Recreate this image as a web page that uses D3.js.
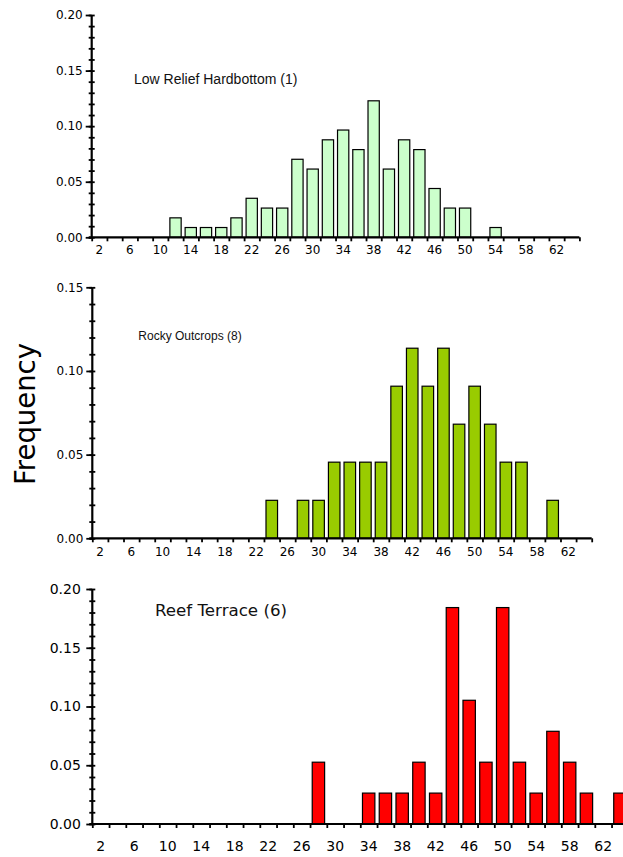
<!DOCTYPE html>
<html>
<head>
<meta charset="utf-8">
<script src="https://cdn.jsdelivr.net/npm/d3@7"></script>
<style>
body { margin: 0; background: #fff; }
svg { display: block; }
</style>
</head>
<body>
<svg id="chart" width="623" height="857"></svg>
<script>
// length classes (bin centres), 2 units wide
var bins = [2, 4, 6, 8, 10, 12, 14, 16, 18, 20, 22, 24, 26, 28, 30, 32,
            34, 36, 38, 40, 42, 44, 46, 48, 50, 52, 54, 56, 58, 60, 62, 64];
var xLabels = [2, 6, 10, 14, 18, 22, 26, 30, 34, 38, 42, 46, 50, 54, 58, 62];

// frequencies, one per bin
var lowRelief = [0, 0, 0, 0, 0, 0.0175, 0.0088, 0.0088, 0.0088, 0.0175, 0.0351, 0.0263, 0.0263, 0.0702, 0.0614, 0.0877,
                 0.0965, 0.0789, 0.1228, 0.0614, 0.0877, 0.0789, 0.0439, 0.0263, 0.0263, 0, 0.0088, 0, 0, 0, 0, 0];
var rockyOutcrops = [0, 0, 0, 0, 0, 0, 0, 0, 0, 0, 0, 0.0227, 0, 0.0227, 0.0227, 0.0455,
                     0.0455, 0.0455, 0.0455, 0.0909, 0.1136, 0.0909, 0.1136, 0.0682, 0.0909, 0.0682, 0.0455, 0.0455, 0, 0.0227, 0, 0];
var reefTerrace = [0, 0, 0, 0, 0, 0, 0, 0, 0, 0, 0, 0, 0, 0.0526, 0, 0,
                   0.0263, 0.0263, 0.0263, 0.0526, 0.0263, 0.1842, 0.1053, 0.0526, 0.1842, 0.0526, 0.0263, 0.0789, 0.0526, 0.0263, 0, 0.0263];

var titles = ["Low Relief Hardbottom (1)", "Rocky Outcrops (8)", "Reef Terrace (6)"];
var yTicksTop = [0, 0.05, 0.10, 0.15, 0.20];
var yTicksMid = [0, 0.05, 0.10, 0.15];
var yTicksBot = [0, 0.05, 0.10, 0.15, 0.20];

var svg = d3.select("#chart");

var panels = [
  { values: lowRelief, title: titles[0], yTicks: yTicksTop, yMax: 0.20,
    left: 91.7, right: 579.4, top: 15, bottom: 237.3, fill: "#ccffcc",
    fontSize: 12, yPad: 3, xPad: 8,
    tFont: "'Liberation Sans', Arial, sans-serif", tSize: 14, tx: 134, ty: 84, tLen: null },
  { values: rockyOutcrops, title: titles[1], yTicks: yTicksMid, yMax: 0.15,
    left: 92.3, right: 591.7, top: 287.3, bottom: 538.3, fill: "#99cc00",
    fontSize: 12, yPad: 3, xPad: 9.5,
    tFont: "'Liberation Sans', Arial, sans-serif", tSize: 12, tx: 138.3, ty: 340, tLen: null },
  { values: reefTerrace, title: titles[2], yTicks: yTicksBot, yMax: 0.20,
    left: 92.3, right: 628.3, top: 589, bottom: 824, fill: "#ff0000",
    fontSize: 14, yPad: 5.5, xPad: 17,
    tFont: "'Comic Sans MS', 'DejaVu Sans', sans-serif", tSize: 16, tx: 155, ty: 616, tLen: 132 }
];

panels.forEach(drawPanel);

function drawPanel(p) {
  var g = svg.append("g");

  var x = d3.scaleBand()
    .domain(bins)
    .range([p.left, p.right])
    .paddingInner(0.26)
    .paddingOuter(0.13);
  // bin edges
  var xEdge = d3.scaleLinear()
    .domain([0, bins.length])
    .range([p.left, p.right]);
  var y = d3.scaleLinear()
    .domain([0, p.yMax])
    .range([p.bottom, p.top]);

  var rows = bins.map(function(b, i) { return { bin: b, v: p.values[i] }; })
    .filter(function(d) { return d.v > 0; });

  g.selectAll("rect.bar")
    .data(rows)
    .join("rect")
    .attr("class", "bar")
    .attr("x", function(d) { return x(d.bin); })
    .attr("width", x.bandwidth())
    .attr("y", function(d) { return y(d.v); })
    .attr("height", function(d) { return y(0) - y(d.v); })
    .style("fill", p.fill)
    .style("stroke", "#000")
    .style("stroke-width", 1.2);

  var minor = y.ticks(Math.round(p.yMax / 0.01));

  // y axis: minor ticks both sides, major ticks + labels
  var yMinL = g.append("g").attr("transform", "translate(" + p.left + ",0)")
    .call(d3.axisLeft(y).tickValues(minor).tickSize(3).tickFormat(""));
  var yMinR = g.append("g").attr("transform", "translate(" + p.left + ",0)")
    .call(d3.axisRight(y).tickValues(minor).tickSize(3).tickFormat(""));
  var yMaj = g.append("g").attr("transform", "translate(" + p.left + ",0)")
    .call(d3.axisLeft(y).tickValues(p.yTicks).tickSize(6).tickPadding(p.yPad).tickFormat(d3.format(".2f")));

  // x axis: ticks at bin edges, labels at bin centres
  var xTk = g.append("g").attr("transform", "translate(0," + p.bottom + ")")
    .call(d3.axisBottom(xEdge).tickValues(d3.range(bins.length + 1)).tickSize(4).tickFormat(""));
  var xLab = g.append("g").attr("transform", "translate(0," + p.bottom + ")")
    .call(d3.axisBottom(x).tickValues(xLabels).tickSize(0).tickPadding(p.xPad));

  [yMinL, yMinR, yMaj, xTk, xLab].forEach(function(a) {
    a.select(".domain").remove();
    a.selectAll(".tick line").style("stroke", "#000").style("stroke-width", 1.8);
    a.selectAll("text")
      .style("font-family", "'DejaVu Sans', Verdana, sans-serif")
      .style("font-size", p.fontSize + "px")
      .style("fill", "#000");
  });

  // axis lines
  g.append("line")
    .attr("x1", p.left).attr("x2", p.left)
    .attr("y1", p.top).attr("y2", p.bottom)
    .style("stroke", "#000").style("stroke-width", 2.2);
  g.append("line")
    .attr("x1", p.left - 3).attr("x2", p.right)
    .attr("y1", p.bottom).attr("y2", p.bottom)
    .style("stroke", "#000").style("stroke-width", 2.2);

  var t = g.append("text")
    .attr("x", p.tx)
    .attr("y", p.ty)
    .style("font-family", p.tFont)
    .style("font-size", p.tSize + "px")
    .style("fill", "#111")
    .text(p.title);
  if (p.tLen) t.attr("textLength", p.tLen).attr("lengthAdjust", "spacingAndGlyphs");
}

svg.append("text")
  .attr("transform", "translate(35,414) rotate(-90)")
  .attr("text-anchor", "middle")
  .attr("textLength", 142)
  .attr("lengthAdjust", "spacingAndGlyphs")
  .style("font-family", "'Comic Sans MS', 'DejaVu Sans', sans-serif")
  .style("font-size", "28px")
  .style("fill", "#000")
  .text("Frequency");
</script>
</body>
</html>
